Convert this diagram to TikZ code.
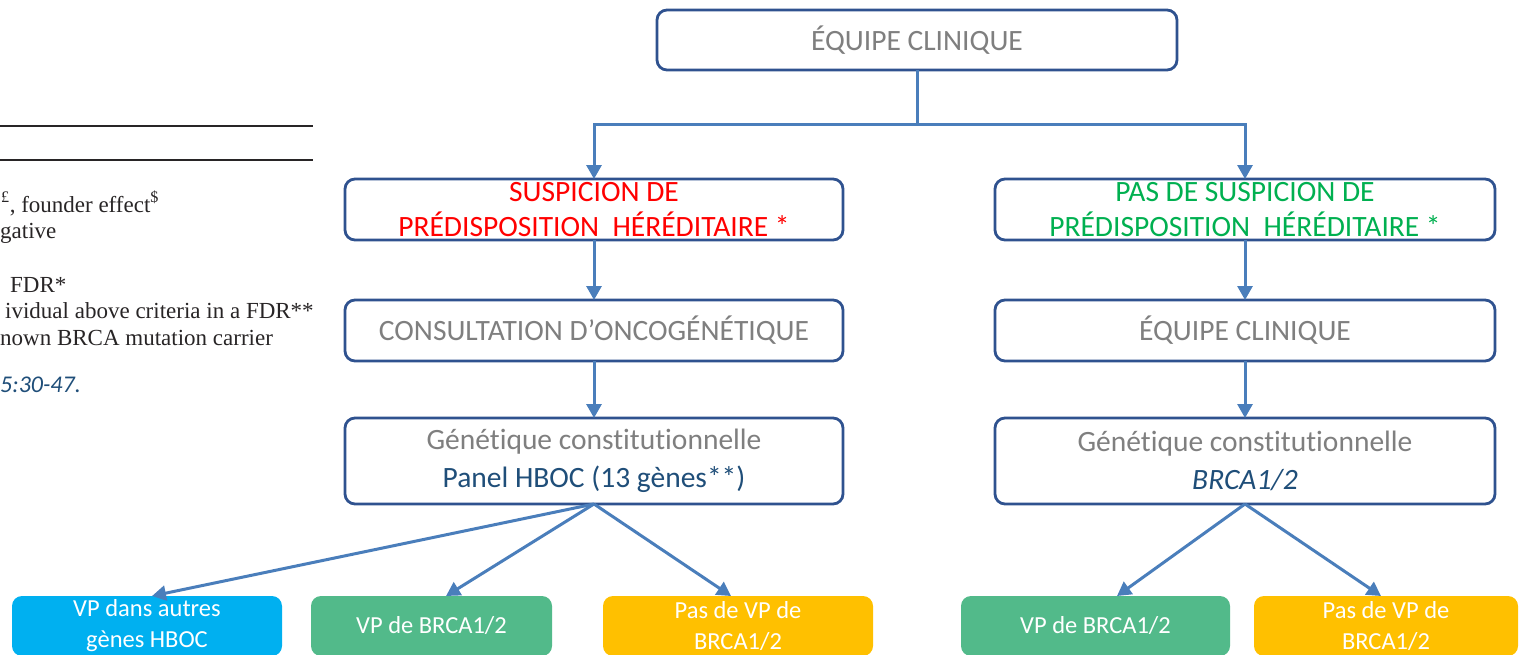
\documentclass[tikz,border=0pt]{standalone}
\usepackage{fontspec}
\setmainfont{Carlito}[Ligatures={NoCommon,NoContextual,NoRare}, RawFeature={-liga;-clig;-dlig}]
\newfontfamily\refserif{Liberation Serif}
\usetikzlibrary{arrows.meta}

\definecolor{boxline}{RGB}{47,82,143}
\definecolor{connc}{RGB}{74,126,187}
\definecolor{txtgray}{RGB}{127,127,127}
\definecolor{txtred}{RGB}{255,0,0}
\definecolor{txtgreen}{RGB}{0,176,80}
\definecolor{txtnavy}{RGB}{31,78,121}
\definecolor{fillblue}{RGB}{0,176,240}
\definecolor{fillgreen}{RGB}{82,186,138}
\definecolor{fillyellow}{RGB}{255,192,0}
\definecolor{serifink}{RGB}{40,37,38}

\tikzset{
  flowbox/.style={draw=boxline, line width=2.8pt, rounded corners=10pt, fill=white,
    inner sep=0pt, outer sep=0pt, align=center, text=txtgray,
    font=\fontsize{29.5}{34.5}\selectfont},
  resultbox/.style={rounded corners=10pt, inner sep=0pt, outer sep=0pt, align=center,
    text=white, minimum height=60pt, font=\fontsize{24.5}{31}\selectfont},
  conn/.style={draw=connc, line width=3pt},
  arr/.style={conn, -{Triangle[length=14pt,width=15pt]}},
  reftext/.style={anchor=base west, inner sep=0pt, text=serifink,
    font=\refserif\fontsize{23}{27}\selectfont},
}

\begin{document}
\begin{tikzpicture}[x=1pt,y=-1pt]
\useasboundingbox (0,0) rectangle (1520,654);

% fragment of a table on the left
\draw[line width=2.4pt, serifink] (0,126) -- (313,126);
\draw[line width=2.4pt, serifink] (0,160) -- (313,160);
\node[reftext] (r1) at (1,212) {\textsuperscript{£}, founder effect\textsuperscript{\$}};
\node[reftext] (r2) at (0,238) {gative};
\node[reftext] (r3) at (10,292) {FDR*};
\node[reftext] (r4) at (5,318) {ividual above criteria in a FDR**};
\node[reftext] (r5) at (0,345) {nown BRCA mutation carrier};
\node[anchor=base west, inner sep=0pt, text=txtnavy, font=\fontsize{24}{28}\selectfont\itshape]
  (r6) at (0,392) {5:30-47.};

% top of the tree
\node[flowbox, minimum width=520pt, minimum height=60pt] (top) at (917,40) {ÉQUIPE CLINIQUE};

% left branch
\node[flowbox, minimum width=498pt, minimum height=61pt, text=txtred] (sl) at (594,209.5)
  {SUSPICION DE\\PRÉDISPOSITION\ \ HÉRÉDITAIRE *};
\node[flowbox, minimum width=498pt, minimum height=61pt] (cl) at (594,330.5)
  {CONSULTATION D’ONCOGÉNÉTIQUE};
\node[flowbox, minimum width=498pt, minimum height=86pt] (gl) at (594,461)
  {Génétique constitutionnelle\\[3pt]\textcolor{txtnavy}{Panel HBOC (13 gènes**)}};

% right branch
\node[flowbox, minimum width=500pt, minimum height=61pt, text=txtgreen] (sr) at (1245,209.5)
  {PAS DE SUSPICION DE\\PRÉDISPOSITION\ \ HÉRÉDITAIRE *};
\node[flowbox, minimum width=500pt, minimum height=61pt] (cr) at (1245,330.5)
  {ÉQUIPE CLINIQUE};
\node[flowbox, minimum width=500pt, minimum height=86pt] (gr) at (1245,461)
  {Génétique constitutionnelle\\[3pt]\textcolor{txtnavy}{\itshape BRCA1/2}};

% results
\node[resultbox, fill=fillblue, minimum width=270pt] (b1) at (147,626)
  {VP dans autres\\gènes HBOC};
\node[resultbox, fill=fillgreen, minimum width=241pt] (b2) at (431.5,626)
  {VP de BRCA1/2};
\node[resultbox, fill=fillyellow, minimum width=270pt] (b3) at (738,626)
  {Pas de VP de\\BRCA1/2};
\node[resultbox, fill=fillgreen, minimum width=269pt] (b4) at (1095.5,626)
  {VP de BRCA1/2};
\node[resultbox, fill=fillyellow, minimum width=264pt] (b5) at (1386,626)
  {Pas de VP de\\BRCA1/2};

% connectors
\coordinate (split) at (917,124);
\draw[conn] (top.south) -- (split);
\draw[arr] (split) -| (sl.north);
\draw[arr] (split) -| (sr.north);
\draw[arr] (sl.south) -- (cl.north);
\draw[arr] (cl.south) -- (gl.north);
\draw[arr] (sr.south) -- (cr.north);
\draw[arr] (cr.south) -- (gr.north);

\draw[arr] (gl.south) -- ([xshift=5pt]b1.north);
\draw[arr] (gl.south) -- ([xshift=14.5pt]b2.north);
\draw[arr] (gl.south) -- ([xshift=-7pt]b3.north);
\draw[arr] (gr.south) -- ([xshift=21.5pt]b4.north);
\draw[arr] (gr.south) -- ([xshift=-5pt]b5.north);
\end{tikzpicture}
\end{document}
